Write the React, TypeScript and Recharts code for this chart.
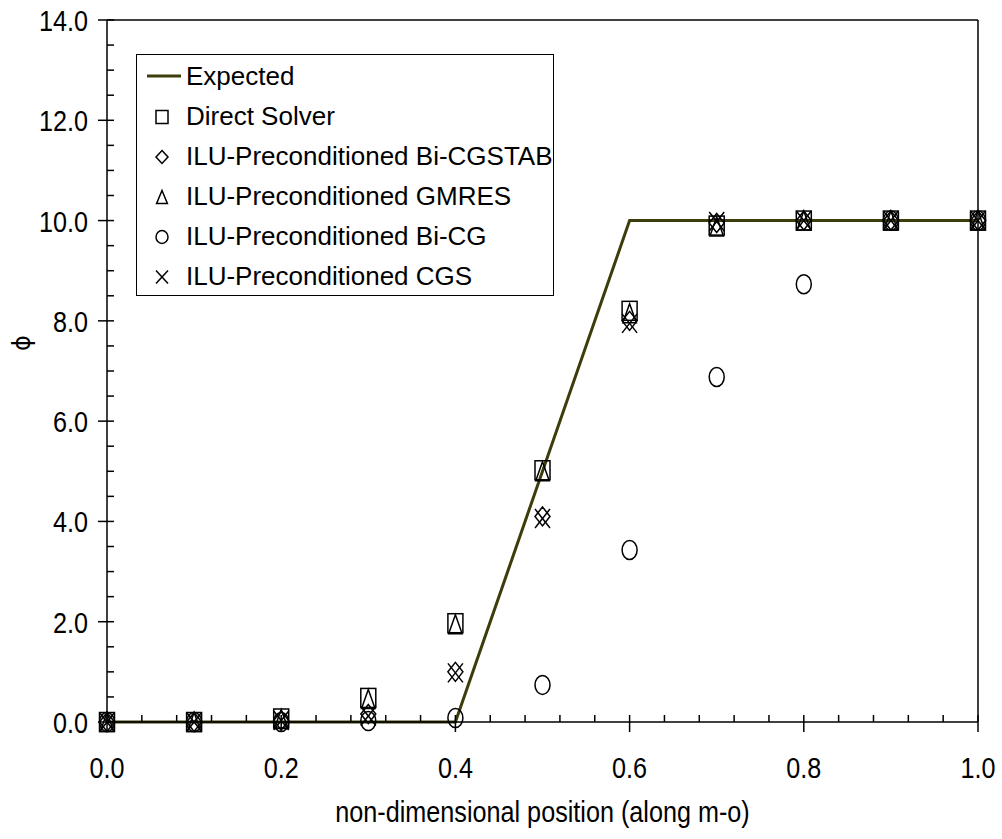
import { ComposedChart, Line, Scatter, XAxis, YAxis, ReferenceLine, Legend } from 'recharts'

const positions = [0, 0.1, 0.2, 0.3, 0.4, 0.5, 0.6, 0.7, 0.8, 0.9, 1.0]

const expectedX = [0, 0.4, 0.6, 1.0]
const expectedY = [0, 0, 10, 10]

const directSolver = [0, 0, 0.07, 0.48, 1.97, 5.02, 8.2, 9.9, 10, 10, 10]
const biCgstab = [0, 0, 0.03, 0.16, 1.0, 4.1, 8.0, 9.95, 10, 10, 10]
const gmres = [0, 0, 0.06, 0.46, 1.95, 5.0, 8.15, 9.88, 10, 10, 10]
const biCg = [0, 0, 0, 0.02, 0.08, 0.74, 3.43, 6.88, 8.73, 10, 10]
const cgs = [0, 0, 0.03, 0.12, 0.98, 4.06, 7.95, 9.98, 10, 10, 10]

const xTicks = [0, 0.04, 0.08, 0.12, 0.16, 0.2, 0.24, 0.28, 0.32, 0.36, 0.4, 0.44, 0.48, 0.52, 0.56, 0.6, 0.64, 0.68, 0.72, 0.76, 0.8, 0.84, 0.88, 0.92, 0.96, 1.0]
const xMajor = [0, 0.2, 0.4, 0.6, 0.8, 1.0]
const yTicks = [0, 0.5, 1, 1.5, 2, 2.5, 3, 3.5, 4, 4.5, 5, 5.5, 6, 6.5, 7, 7.5, 8, 8.5, 9, 9.5, 10, 10.5, 11, 11.5, 12, 12.5, 13, 13.5, 14]
const yMajor = [0, 2, 4, 6, 8, 10, 12, 14]

const AXIS_FONT = '"Liberation Sans", Arial, sans-serif'
const LEGEND_FONT = '"Liberation Sans", Arial, sans-serif'
const LINE_COLOR = '#3d3d0b'
const NARROW = 0.84 // axis text in the original is a condensed face

const toPoints = (ys: number[]) => ys.map((y, i) => ({ x: positions[i], y }))
const expected = expectedX.map((x, i) => ({ x, y: expectedY[i] }))

const isIn = (v: number, list: number[]) => list.some(m => Math.abs(m - v) < 1e-6)

const NarrowText = ({ x, y, anchor, children }: any) => (
  <text transform={`translate(${x} ${y}) scale(${NARROW} 1)`} textAnchor={anchor}
    fontSize={30} fontFamily={AXIS_FONT} fill="#000">
    {children}
  </text>
)

// marker glyphs, scaled for plot (w,h) or legend
const glyph = (kind: string, cx: number, cy: number, w: number, h: number) => {
  const hw = w / 2, hh = h / 2
  const common = { fill: 'none', stroke: '#000', strokeWidth: 1.5 }
  switch (kind) {
    case 'square':
      return <rect x={cx - hw} y={cy - hh} width={w} height={h} {...common} />
    case 'diamond':
      return <polygon points={`${cx},${cy - hh} ${cx + hw},${cy} ${cx},${cy + hh} ${cx - hw},${cy}`} {...common} />
    case 'triangle':
      return <polygon points={`${cx},${cy - hh} ${cx + hw * 0.9},${cy + hh} ${cx - hw * 0.9},${cy + hh}`} {...common} />
    case 'circle':
      return <ellipse cx={cx} cy={cy} rx={hw} ry={hh} {...common} />
    default:
      return (
        <g {...common}>
          <line x1={cx - hw} y1={cy - hh} x2={cx + hw} y2={cy + hh} />
          <line x1={cx - hw} y1={cy + hh} x2={cx + hw} y2={cy - hh} />
        </g>
      )
  }
}

const markerShape = (kind: string) => (props: any) => glyph(kind, props.cx, props.cy, 15, 19)

const series = [
  { name: 'Direct Solver', kind: 'square', values: directSolver },
  { name: 'ILU-Preconditioned Bi-CGSTAB', kind: 'diamond', values: biCgstab },
  { name: 'ILU-Preconditioned GMRES', kind: 'triangle', values: gmres },
  { name: 'ILU-Preconditioned Bi-CG', kind: 'circle', values: biCg },
  { name: 'ILU-Preconditioned CGS', kind: 'cross', values: cgs },
]

const XTick = (props: any) => {
  const { x, y, payload } = props
  const major = isIn(payload.value, xMajor)
  return (
    <g>
      <line x1={x} x2={x} y1={y - 7} y2={major ? y + 10 : y} stroke="#000" strokeWidth={1.5} />
      {major && <NarrowText x={x} y={y + 56} anchor="middle">{payload.value.toFixed(1)}</NarrowText>}
    </g>
  )
}

const YTick = (props: any) => {
  const { x, y, payload } = props
  const major = isIn(payload.value, yMajor)
  return (
    <g>
      <line x1={major ? x - 9 : x} x2={x + 7} y1={y} y2={y} stroke="#000" strokeWidth={1.5} />
      {major && <NarrowText x={x - 19} y={y + 11} anchor="end">{payload.value.toFixed(1)}</NarrowText>}
    </g>
  )
}

const LegendBox = () => (
  <div style={{
    width: 418, height: 242, boxSizing: 'border-box', border: '1.5px solid #000', background: '#fff',
    paddingTop: 1, fontFamily: LEGEND_FONT, fontSize: 26, color: '#000',
  }}>
    <div style={{ display: 'flex', alignItems: 'center', height: 40 }}>
      <svg width={49} height={40}>
        <line x1={10} x2={44} y1={20} y2={20} stroke={LINE_COLOR} strokeWidth={3} />
      </svg>
      <span>Expected</span>
    </div>
    {series.map(s => (
      <div key={s.name} style={{ display: 'flex', alignItems: 'center', height: 40 }}>
        <svg width={49} height={40}>
          {glyph(s.kind, 25, 21, 12, 13)}
        </svg>
        <span>{s.name}</span>
      </div>
    ))}
  </div>
)

export default function App() {
  return (
    <div style={{ position: 'absolute', left: 0, top: 0, background: '#fff' }}>
      <ComposedChart width={1002} height={839} margin={{ top: 20, right: 24, bottom: 57, left: 10 }}>
        <XAxis
          type="number" dataKey="x" domain={[0, 1]} ticks={xTicks} interval={0}
          tick={<XTick />} tickLine={false} tickSize={0} tickMargin={0} height={60}
          axisLine={{ stroke: '#000', strokeWidth: 1.5 }}
          label={{
            content: (p: any) => (
              <NarrowText x={p.viewBox.x + p.viewBox.width / 2} y={p.viewBox.y + 100} anchor="middle">
                non-dimensional position (along m-o)
              </NarrowText>
            ),
          }}
        />
        <YAxis
          type="number" dataKey="y" domain={[0, 14]} ticks={yTicks} interval={0}
          tick={<YTick />} tickLine={false} tickSize={0} tickMargin={0} width={97}
          axisLine={{ stroke: '#000', strokeWidth: 1.5 }}
          label={{
            content: (p: any) => {
              const cx = p.viewBox.x + 12
              const cy = p.viewBox.y + p.viewBox.height / 2 - 28
              return (
                <text x={cx} y={cy} textAnchor="middle" dominantBaseline="central" fontSize={24}
                  fontFamily='"DejaVu Sans", sans-serif' fill="#000" transform={`rotate(-90 ${cx} ${cy})`}>
                  ϕ
                </text>
              )
            },
          }}
        />
        <ReferenceLine y={14} stroke="#000" strokeWidth={1.5} />
        <ReferenceLine x={1} stroke="#000" strokeWidth={1.5} />
        <Line data={expected} dataKey="y" type="linear" stroke={LINE_COLOR} strokeWidth={3} dot={false}
          isAnimationActive={false} legendType="none" />
        {series.map(s => (
          <Scatter key={s.name} name={s.name} data={toPoints(s.values)} shape={markerShape(s.kind)}
            isAnimationActive={false} />
        ))}
        <Legend layout="vertical" align="center" verticalAlign="middle" content={<LegendBox />}
          wrapperStyle={{ left: 136, top: 54, width: 418, height: 242 }} />
      </ComposedChart>
    </div>
  )
}
